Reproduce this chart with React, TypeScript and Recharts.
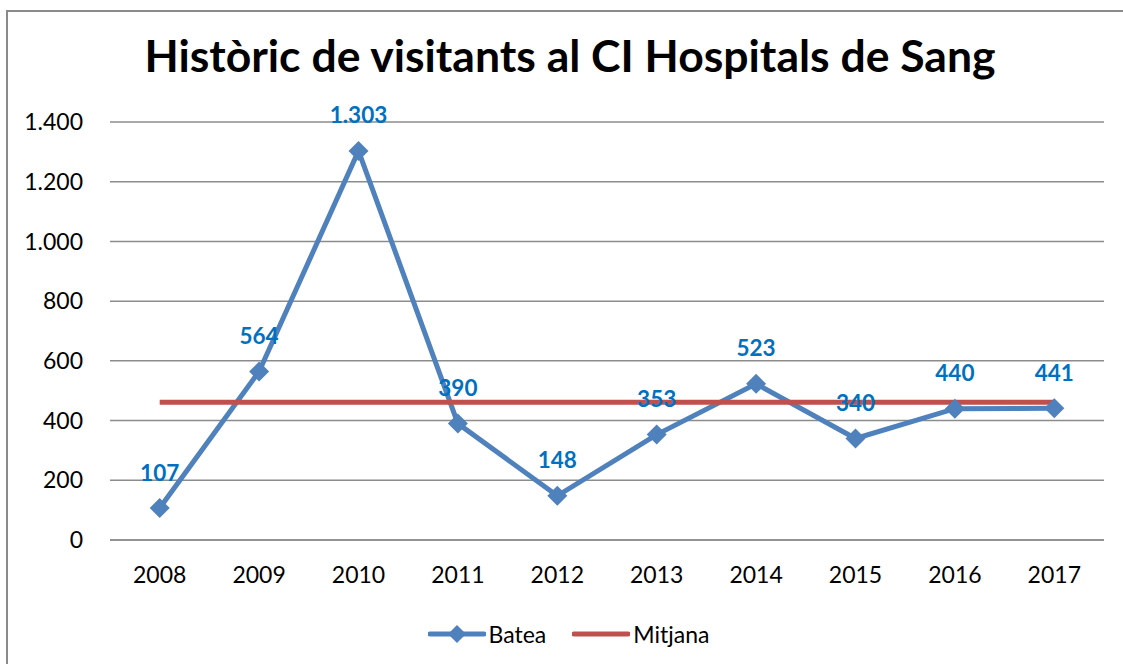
import React from "react";
import {
  LineChart,
  Line,
  XAxis,
  YAxis,
  CartesianGrid,
  Legend,
  LabelList,
} from "recharts";

const years = ["2008", "2009", "2010", "2011", "2012", "2013", "2014", "2015", "2016", "2017"];
const batea = [107, 564, 1303, 390, 148, 353, 523, 340, 440, 441];
const mitjana = [461, 461, 461, 461, 461, 461, 461, 461, 461, 461];
const yTicks = [0, 200, 400, 600, 800, 1000, 1200, 1400];

const data = years.map((year, i) => ({ year, batea: batea[i], mitjana: mitjana[i] }));

const BLUE = "#4F81BD";
const RED = "#C0504D";
const LABEL = "#0070C0";
const FONT = "Lato, 'Open Sans', sans-serif";

// catalan style thousands: 1.303
const fmt = (v: number) => String(v).replace(/\B(?=(\d{3})+(?!\d))/g, ".");

function Diamond(props: any) {
  const { cx, cy, index } = props;
  if (cx == null || cy == null) return <g key={index} />;
  const r = 10;
  return (
    <polygon
      key={index}
      points={`${cx},${cy - r} ${cx + r},${cy} ${cx},${cy + r} ${cx - r},${cy}`}
      fill={BLUE}
    />
  );
}

function ValueLabel(props: any) {
  const { x, y, value } = props;
  return (
    <text
      x={x}
      y={y - 36}
      textAnchor="middle"
      dominantBaseline="central"
      fill={LABEL}
      fontWeight="bold"
      fontSize={22.5}
      fontFamily={FONT}
    >
      {fmt(value)}
    </text>
  );
}

function LegendBox() {
  const item = (name: string, color: string, marker: boolean) => (
    <div style={{ display: "flex", alignItems: "center" }}>
      <svg width={58} height={24}>
        <line x1={2} y1={12} x2={56} y2={12} stroke={color} strokeWidth={5} strokeLinecap="round" />
        {marker && <polygon points="29,3 38,12 29,21 20,12" fill={color} />}
      </svg>
      <span style={{ marginLeft: 3, fontSize: 23, fontFamily: FONT, color: "#000" }}>{name}</span>
    </div>
  );
  return (
    <div style={{ display: "flex", justifyContent: "center", gap: 26, paddingLeft: 14 }}>
      {item("Batea", BLUE, true)}
      {item("Mitjana", RED, false)}
    </div>
  );
}

export default function App() {
  return (
    <div
      style={{
        position: "absolute",
        left: 0,
        top: 0,
        width: 1123,
        height: 664,
        overflow: "hidden",
        background: "#fff",
        fontFamily: FONT,
      }}
    >
      <div
        style={{
          position: "absolute",
          left: 6,
          top: 10,
          width: 1130,
          height: 700,
          borderLeft: "2px solid #8a8a8a",
          borderTop: "2px solid #8a8a8a",
        }}
      />
      <div
        style={{
          position: "absolute",
          left: 70,
          width: 1000,
          top: 28,
          textAlign: "center",
          fontSize: 44.5,
          fontWeight: "bold",
          lineHeight: "54px",
          color: "#000",
        }}
      >
        Històric de visitants al CI Hospitals de Sang
      </div>
      <div style={{ position: "absolute", left: 0, top: 0 }}>
        <LineChart
          width={1123}
          height={664}
          data={data}
          margin={{ top: 122, right: 19, bottom: 46, left: 0 }}
        >
          <CartesianGrid vertical={false} stroke="#8c8c8c" strokeWidth={1.5} />
          <XAxis
            dataKey="year"
            axisLine={{ stroke: "#8c8c8c", strokeWidth: 1.5 }}
            tickLine={false}
            tickMargin={21}
            height={50}
            padding={{ left: 49.7, right: 49.7 }}
            tick={{ fill: "#000", fontSize: 23, fontFamily: FONT }}
          />
          <YAxis
            domain={[0, 1400]}
            ticks={yTicks}
            width={110}
            axisLine={false}
            tickLine={false}
            tickMargin={21}
            tickFormatter={fmt}
            tick={{ fill: "#000", fontSize: 23, fontFamily: FONT }}
          />
          <Line
            dataKey="batea"
            name="Batea"
            stroke={BLUE}
            strokeWidth={5}
            dot={Diamond}
            activeDot={false}
            isAnimationActive={false}
          />
          <Line
            dataKey="mitjana"
            name="Mitjana"
            stroke={RED}
            strokeWidth={5}
            dot={false}
            activeDot={false}
            isAnimationActive={false}
          />
          <Line
            dataKey="batea"
            stroke="none"
            dot={false}
            activeDot={false}
            legendType="none"
            isAnimationActive={false}
          >
            <LabelList dataKey="batea" content={ValueLabel} />
          </Line>
          <Legend
            content={() => <LegendBox />}
            wrapperStyle={{ top: 620, left: 0, width: 1123, bottom: "auto" }}
          />
        </LineChart>
      </div>
    </div>
  );
}
